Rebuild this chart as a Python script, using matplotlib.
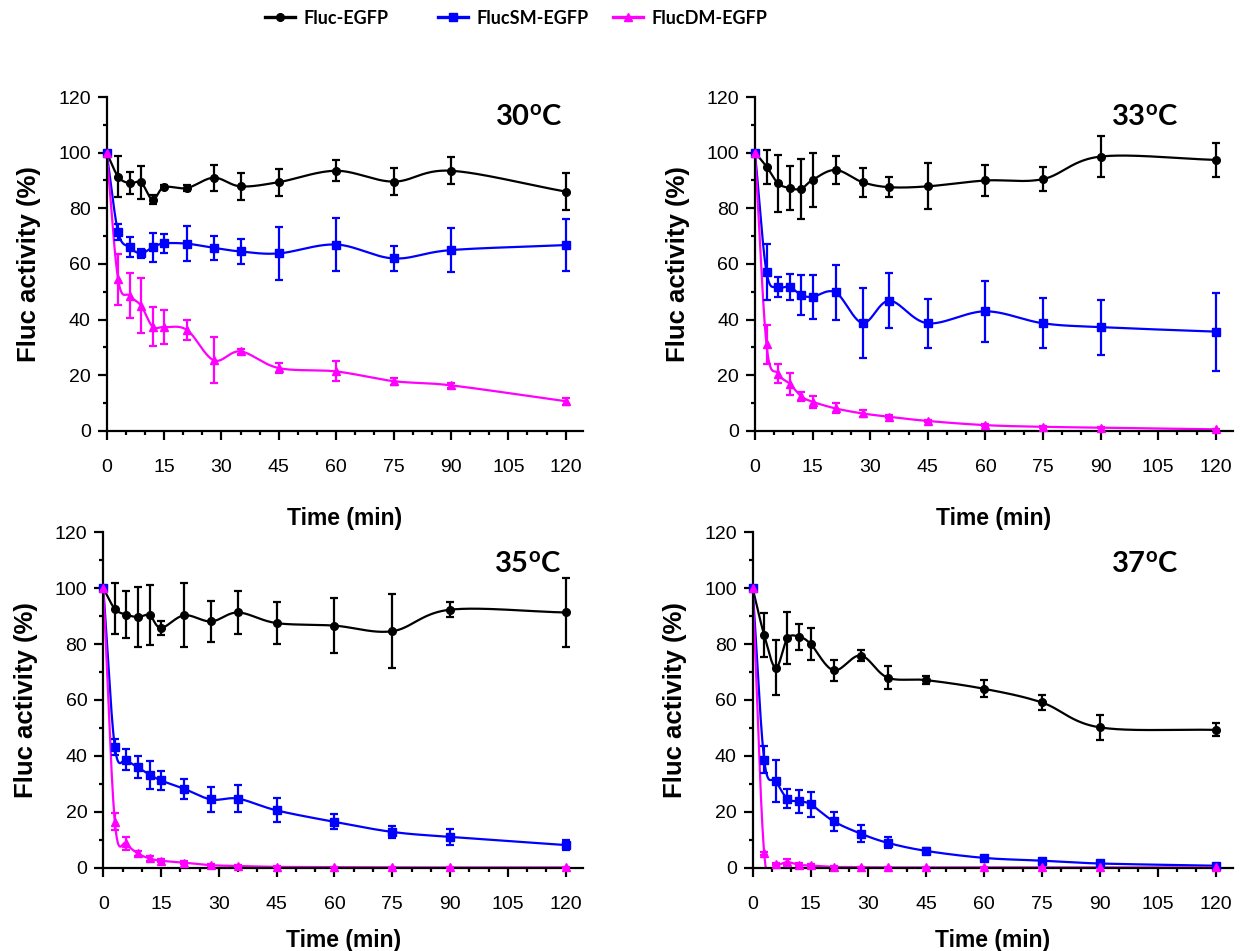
import numpy as np
import matplotlib
matplotlib.use("Agg")
import matplotlib.pyplot as plt
from matplotlib.lines import Line2D
from matplotlib.ticker import MultipleLocator

plt.rcParams['font.family'] = ['Liberation Sans', 'DejaVu Sans']
plt.rcParams['mathtext.fontset'] = 'custom'
plt.rcParams['mathtext.rm'] = 'Lato:bold'
plt.rcParams['mathtext.it'] = 'Lato:bold'
plt.rcParams['mathtext.bf'] = 'Lato:bold'

# time points (min)
t = [0, 3, 6, 9, 12, 15, 21, 28, 35, 45, 60, 75, 90, 120]

# 30 C
wt30 = [100, 91.4, 89, 89.3, 83.1, 87.6, 87.3, 91, 87.9, 89.4, 93.5, 89.6, 93.5, 86]
wt30e = [0, 7.3, 4, 5.8, 1.6, 0.7, 1, 4.6, 4.8, 4.9, 3.7, 4.8, 4.9, 6.6]
sm30 = [100, 71.5, 66, 63.8, 66, 67.4, 67.3, 65.8, 64.5, 63.8, 67, 62, 65, 66.8]
sm30e = [0, 2.7, 3.6, 1.5, 5.2, 3.4, 6.4, 4.2, 4.6, 9.6, 9.6, 4.4, 7.9, 9.2]
dm30 = [100, 54.5, 48.6, 45, 37.5, 37.3, 36.3, 25.4, 28.6, 22.6, 21.4, 17.9, 16.4, 10.7]
dm30e = [0, 9.2, 8.1, 9.8, 7.1, 6.2, 3.7, 8.2, 0.8, 1.9, 3.6, 1.2, 0.8, 1.2]

# 33 C
wt33 = [100, 95, 89, 87.3, 87, 90.2, 93.8, 89.4, 87.6, 87.9, 90, 90.5, 98.6, 97.4]
wt33e = [0, 6.1, 10.3, 8, 10.7, 9.7, 5, 5.2, 3.6, 8.3, 5.5, 4.3, 7.4, 6.1]
sm33 = [100, 57.1, 51.8, 51.8, 48.9, 48.2, 49.8, 38.8, 46.8, 38.7, 43, 38.7, 37.3, 35.7]
sm33e = [0, 10.2, 3.6, 4.6, 7.1, 7.8, 9.8, 12.6, 9.9, 8.9, 10.9, 9, 9.9, 14]
dm33 = [100, 31.1, 20.6, 17, 12.5, 10.5, 8.1, 6.3, 5.1, 3.6, 2.1, 1.5, 1.2, 0.6]
dm33e = [0, 7, 3.4, 4, 1.6, 2.1, 1.8, 1.2, 0.6, 0.5, 0.3, 0.3, 0.3, 0.2]

# 35 C
wt35 = [100, 92.6, 90.5, 89.7, 90.3, 85.8, 90.3, 88.1, 91.3, 87.5, 86.6, 84.6, 92.3, 91.3]
wt35e = [0, 9.1, 8.4, 10.6, 10.8, 2.5, 11.5, 7.3, 7.7, 7.4, 9.8, 13.3, 2.6, 12.3]
sm35 = [100, 43.1, 38.6, 35.9, 33.3, 31.2, 28.2, 24.4, 24.7, 20.5, 16.4, 12.8, 11, 8.1]
sm35e = [0, 2.8, 3.7, 3.9, 5, 3.3, 3.6, 4.4, 4.9, 4.3, 2.7, 2, 3, 1.9]
dm35 = [100, 16.4, 8.7, 5.1, 3.3, 2.5, 1.8, 0.9, 0.6, 0.3, 0.2, 0.1, 0.1, 0.1]
dm35e = [0, 3, 2.4, 1, 1, 0.6, 0.5, 0.4, 0.3, 0.2, 0.1, 0.1, 0.1, 0.1]

# 37 C
wt37 = [100, 83.2, 71.5, 82, 82.6, 80.1, 70.6, 75.9, 68, 67.1, 64, 59.1, 50.2, 49.3]
wt37e = [0, 7.8, 9.8, 9.3, 4.7, 5.8, 3.7, 2, 4.2, 1.5, 3.1, 2.7, 4.6, 2.3]
sm37 = [100, 38.6, 31, 24.7, 23.7, 22.7, 16.6, 12.2, 8.9, 6, 3.5, 2.5, 1.5, 0.7]
sm37e = [0, 4.9, 7.4, 3.4, 4.1, 4.4, 3.3, 3.1, 2, 1.2, 0.7, 0.6, 0.5, 0.4]
dm37 = [100, 5.1, 1.2, 2.0, 1.0, 0.8, 0.3, 0.2, 0.1, 0.1, 0.1, 0.1, 0.1, 0.1]
dm37e = [0, 0.5, 0.4, 1.0, 0.5, 0.4, 0.2, 0.1, 0.1, 0.1, 0.1, 0.1, 0.1, 0.1]

names = ['Fluc-EGFP', 'FlucSM-EGFP', 'FlucDM-EGFP']
colors = ['black', '#0000ff', '#ff00ff']
markers = ['o', 's', '^']
msizes = [5.5, 5.5, 6]

# (label, series, axes rect, label x, label y, xlabel pad)
panels = [
    ('30', [(wt30, wt30e), (sm30, sm30e), (dm30, dm30e)], [0.0858, 0.5468, 0.3832, 0.3512], 101.5, 112.5, 22),
    ('33', [(wt33, wt33e), (sm33, sm33e), (dm33, dm33e)], [0.6074, 0.5468, 0.3846, 0.3512], 92.7, 112.5, 22),
    ('35', [(wt35, wt35e), (sm35, sm35e), (dm35, dm35e)], [0.0831, 0.0876, 0.3859, 0.3527], 101.5, 108.5, 11.5),
    ('37', [(wt37, wt37e), (sm37, sm37e), (dm37, dm37e)], [0.6055, 0.0876, 0.3864, 0.3527], 93.0, 108.5, 11.5),
]


def smooth_curve(x, y, sx=3.84, sy=2.79, n=40):
    # parametric Catmull-Rom through the points, done in screen-like units
    P = np.column_stack([np.asarray(x, float) * sx, np.asarray(y, float) * sy])
    P = np.vstack([2 * P[0] - P[1], P, 2 * P[-1] - P[-2]])
    s = np.linspace(0, 1, n)[:, None]
    out = []
    for i in range(1, len(P) - 2):
        p0, p1, p2, p3 = P[i - 1], P[i], P[i + 1], P[i + 2]
        seg = 0.5 * (2 * p1 + (-p0 + p2) * s + (2 * p0 - 5 * p1 + 4 * p2 - p3) * s ** 2
                     + (-p0 + 3 * p1 - 3 * p2 + p3) * s ** 3)
        out.append(seg)
    out = np.vstack(out)
    return out[:, 0] / sx, out[:, 1] / sy


fig = plt.figure(figsize=(12.43, 9.51), dpi=100)

for temp, series, pos, tx, ty, xpad in panels:
    ax = fig.add_axes(pos)
    for (vals, errs), c, m, ms in zip(series, colors, markers, msizes):
        xs, ys = smooth_curve(t, vals)
        ax.plot(xs, ys, color=c, lw=1.6, zorder=2)
        eb = ax.errorbar(t, vals, yerr=errs, fmt=m, color=c, ms=ms, ecolor=c,
                         elinewidth=1.6, capsize=3.2, capthick=1.6, zorder=3)
        for art in eb.lines[:1] + tuple(eb.lines[1]) + tuple(eb.lines[2]):
            art.set_clip_on(False)
    ax.set_xlim(0, 124.5)
    ax.set_ylim(0, 120)
    ax.xaxis.set_major_locator(MultipleLocator(15))
    ax.xaxis.set_minor_locator(MultipleLocator(5))
    ax.yaxis.set_major_locator(MultipleLocator(20))
    ax.yaxis.set_minor_locator(MultipleLocator(10))
    for s in ['top', 'right']:
        ax.spines[s].set_visible(False)
    for s in ['left', 'bottom']:
        ax.spines[s].set_linewidth(1.6)
    ax.tick_params(which='major', direction='out', length=6.5, width=1.6, labelsize=14)
    ax.tick_params(which='minor', direction='out', length=3, width=1.6)
    ax.tick_params(axis='x', which='major', pad=14)
    ax.tick_params(axis='y', which='major', pad=5)
    ax.set_xlabel('Time (min)', fontsize=16.5, fontweight='bold', labelpad=xpad)
    ax.set_ylabel('Fluc activity (%)', fontsize=18.5, fontweight='bold', labelpad=12)
    ax.text(tx, ty, r'$\mathrm{' + temp + r'^{o}C}$', fontsize=21, ha='left', va='center')

# legend entries placed at the same spots as the original
leg_x = [265, 438, 613]
for name, c, m, ms, lx in zip(names, colors, markers, msizes, leg_x):
    h = Line2D([], [], color=c, marker=m, ms=ms, lw=2.4)
    fig.legend([h], [name], loc='center left', bbox_to_anchor=(lx / 1243, 1 - 18 / 951),
               frameon=False, borderpad=0, borderaxespad=0,
               prop={'family': 'Lato', 'weight': 'bold', 'size': 13},
               handlelength=1.65, handletextpad=0.5)

fig.savefig('out.png', dpi=100)
